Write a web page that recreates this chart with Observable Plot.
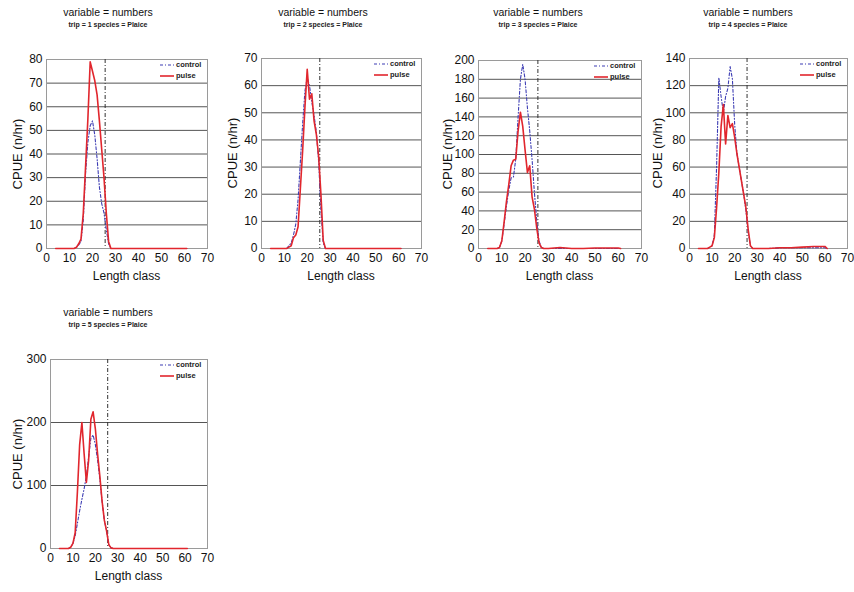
<!DOCTYPE html>
<html><head><meta charset="utf-8">
<script src="https://cdn.jsdelivr.net/npm/d3@7"></script>
<script src="https://cdn.jsdelivr.net/npm/@observablehq/plot@0.6"></script>
<style>
body{margin:0;background:#fff;font-family:"Liberation Sans",Arial,sans-serif;color:#111;}
#root{position:relative;width:854px;height:592px;overflow:hidden;background:#fff;}
.abs{position:absolute;white-space:nowrap;}
.t1{font-size:10.5px;text-align:center;}
.t2{font-size:7px;font-weight:bold;text-align:center;color:#222;}
.xl{font-size:12px;text-align:center;}
.yl{font-size:13px;text-align:center;transform:rotate(-90deg);}
.lg{font-size:7.5px;font-weight:bold;color:#222;}
</style></head><body><div id="root"></div>
<script>
const lengthClass = [4, 6, 8, 9, 10, 11, 12, 13, 14, 15, 16, 17, 18, 19, 20, 21, 22, 23, 24, 25, 26, 27, 28, 29, 30, 35, 40, 45, 50, 55, 60, 61];
const trips = [1, 2, 3, 4, 5];
const species = "Plaice";
const variableName = "numbers";
const seriesNames = ["control", "pulse"];

const control1 = [0,0,0,0,0,0,0, 0.5,1.5,3,12,32,45,52,54,48,38,26,19,15,8,2,0,0,0, 0,0,0,0,0,0,0];
const pulse1   = [0,0,0,0,0,0,0, 0.5,2,4,15,35,55,79,75,71,65,54,42,30,15,3,0,0,0, 0,0,0,0,0,0,0];
const control2 = [0,0,0,0,0,0,1, 2,5,9,18,32,46,58,63,60,54,49,43,32,14,2,0,0,0, 0,0,0,0,0,0,0];
const pulse2   = [0,0,0,0,0,0,0.5, 1,4,5,8,22,36,52,66,55,57,47,42,34,20,3,0,0,0, 0,0,0,0,0,0,0];
const control3 = [0,0,0,1,8,26,45, 62,75,76,95,140,180,196,180,150,125,95,60,30,8,1,0,0,0, 0,0,0,0,0,0,0];
const pulse3   = [0,0,0,1,8,28,50, 68,88,94,95,125,145,130,105,81,88,55,42,22,6,1,0,0,0, 1,0,0,0.5,0.5,0.5,0];
const control4 = [0,0,0,1,2,10,60, 126,112,100,112,118,134,125,92,70,60,50,40,28,12,2,0,0,0, 0,0.5,0.5,0.5,0.5,0.5,0];
const pulse4   = [0,0,0,1,2,8,30, 56,90,106,77,98,89,92,82,70,60,50,40,30,14,2,0,0,0, 0,0.5,0.5,1,1.5,1.5,0];
const control5 = [0,0,0,2,8,20,40, 60,78,95,115,145,175,180,165,140,110,75,45,28,6,1,0,0,0, 0,0,0,0,0,0,0];
const pulse5   = [0,0,0,2,8,25,90, 165,200,150,105,140,205,217,190,150,115,75,45,28,6,1,0,0,0, 0,0,0,0,0,0,0];

const yTicks1 = [0,10,20,30,40,50,60,70,80];
const yTicks2 = [0,10,20,30,40,50,60,70];
const yTicks3 = [0,20,40,60,80,100,120,140,160,180,200];
const yTicks4 = [0,20,40,60,80,100,120,140];
const yTicks5 = [0,100,200,300];
const xTicks = [0,10,20,30,40,50,60,70];
const sizeLimit = 25.5;

const controls = [control1, control2, control3, control4, control5];
const pulses = [pulse1, pulse2, pulse3, pulse4, pulse5];
const yTicksAll = [yTicks1, yTicks2, yTicks3, yTicks4, yTicks5];

// layout (styling only)
const layout = [
  {L:0,   T:0,   W:215, ml:46, mr:8, mt:59, mb:42},
  {L:215, T:0,   W:215, ml:46, mr:9, mt:58, mb:42},
  {L:430, T:0,   W:215, ml:48, mr:4, mt:60, mb:42},
  {L:640, T:0,   W:214, ml:49, mr:7, mt:58, mb:42},
  {L:0,   T:300, W:215, ml:50, mr:8, mt:59, mb:42}
];
const H = 290;
const colControl = "#3d3db4";
const colPulse = "#e1262d";

const root = document.getElementById("root");
function addDiv(cls, text, left, top, extra) {
  const d = document.createElement("div");
  d.className = "abs " + cls;
  d.textContent = text;
  d.style.left = left + "px";
  d.style.top = top + "px";
  if (extra) Object.assign(d.style, extra);
  root.appendChild(d);
  return d;
}

trips.forEach((trip, k) => {
  const g = layout[k];
  const ticks = yTicksAll[k];
  const ctrlRows = lengthClass.map((len, i) => ({len, v: controls[k][i], s: seriesNames[0]}));
  const pulseRows = lengthClass.map((len, i) => ({len, v: pulses[k][i], s: seriesNames[1]}));
  const chart = Plot.plot({
    width: g.W, height: H,
    marginLeft: g.ml, marginRight: g.mr, marginTop: g.mt, marginBottom: g.mb,
    style: {fontFamily: "Liberation Sans, Arial, sans-serif", fontSize: "12px", color: "#111", background: "transparent", overflow: "visible"},
    x: {domain: [0, 70], ticks: xTicks, tickSize: 0, tickPadding: 5, label: null},
    y: {domain: [0, ticks[ticks.length - 1]], ticks: ticks, tickSize: 0, tickPadding: 4, label: null},
    marks: [
      Plot.gridY(ticks, {stroke: "#555", strokeOpacity: 1, strokeWidth: 1}),
      Plot.frame({stroke: "#9a9a9a"}),
      Plot.ruleX([sizeLimit], {stroke: "#333", strokeWidth: 1, strokeDasharray: "4,2,1,2"}),
      Plot.line(ctrlRows, {x: "len", y: "v", stroke: colControl, strokeWidth: 1.1, strokeDasharray: "3,2,1,2"}),
      Plot.line(pulseRows, {x: "len", y: "v", stroke: colPulse, strokeWidth: 1.6}),
      Plot.axisX({ticks: xTicks, tickSize: 0, tickPadding: 5, fontSize: 12, label: null}),
      Plot.axisY({ticks: ticks, tickSize: 0, tickPadding: 4, fontSize: 12, label: null})
    ]
  });
  chart.style.position = "absolute";
  chart.style.left = g.L + "px";
  chart.style.top = g.T + "px";
  root.appendChild(chart);

  const frameL = g.L + g.ml, frameR = g.L + g.W - g.mr;
  const frameT = g.T + g.mt, frameB = g.T + H - g.mb;
  const cx = (frameL + frameR) / 2;
  // titles
  addDiv("t1", "variable = " + variableName, g.L + 8, g.T + 6, {width: "200px"});
  addDiv("t2", "trip = " + trip + " species = " + species, g.L + 8, g.T + 21, {width: "200px"});
  // axis labels
  addDiv("xl", "Length class", cx - 60, frameB + 21, {width: "120px"});
  addDiv("yl", "CPUE (n/hr)", g.L + 18 - 60, (frameT + frameB) / 2 - 8, {width: "120px", lineHeight: "16px"});
  // legend
  const lgX = frameR - 47;
  seriesNames.forEach((name, j) => {
    const y = frameT + 6 + j * 11;
    const sw = document.createElementNS("http://www.w3.org/2000/svg", "svg");
    sw.setAttribute("width", 14); sw.setAttribute("height", 4);
    sw.style.position = "absolute"; sw.style.left = lgX + "px"; sw.style.top = (y - 2) + "px";
    const ln = document.createElementNS("http://www.w3.org/2000/svg", "line");
    ln.setAttribute("x1", 0); ln.setAttribute("x2", 14); ln.setAttribute("y1", 2); ln.setAttribute("y2", 2);
    ln.setAttribute("stroke", j === 0 ? colControl : colPulse);
    ln.setAttribute("stroke-width", j === 0 ? 1.1 : 1.6);
    if (j === 0) ln.setAttribute("stroke-dasharray", "3,2,1,2");
    sw.appendChild(ln);
    root.appendChild(sw);
    addDiv("lg", name, lgX + 16, y - 5, {lineHeight: "10px"});
  });
});
</script>
</body></html>
